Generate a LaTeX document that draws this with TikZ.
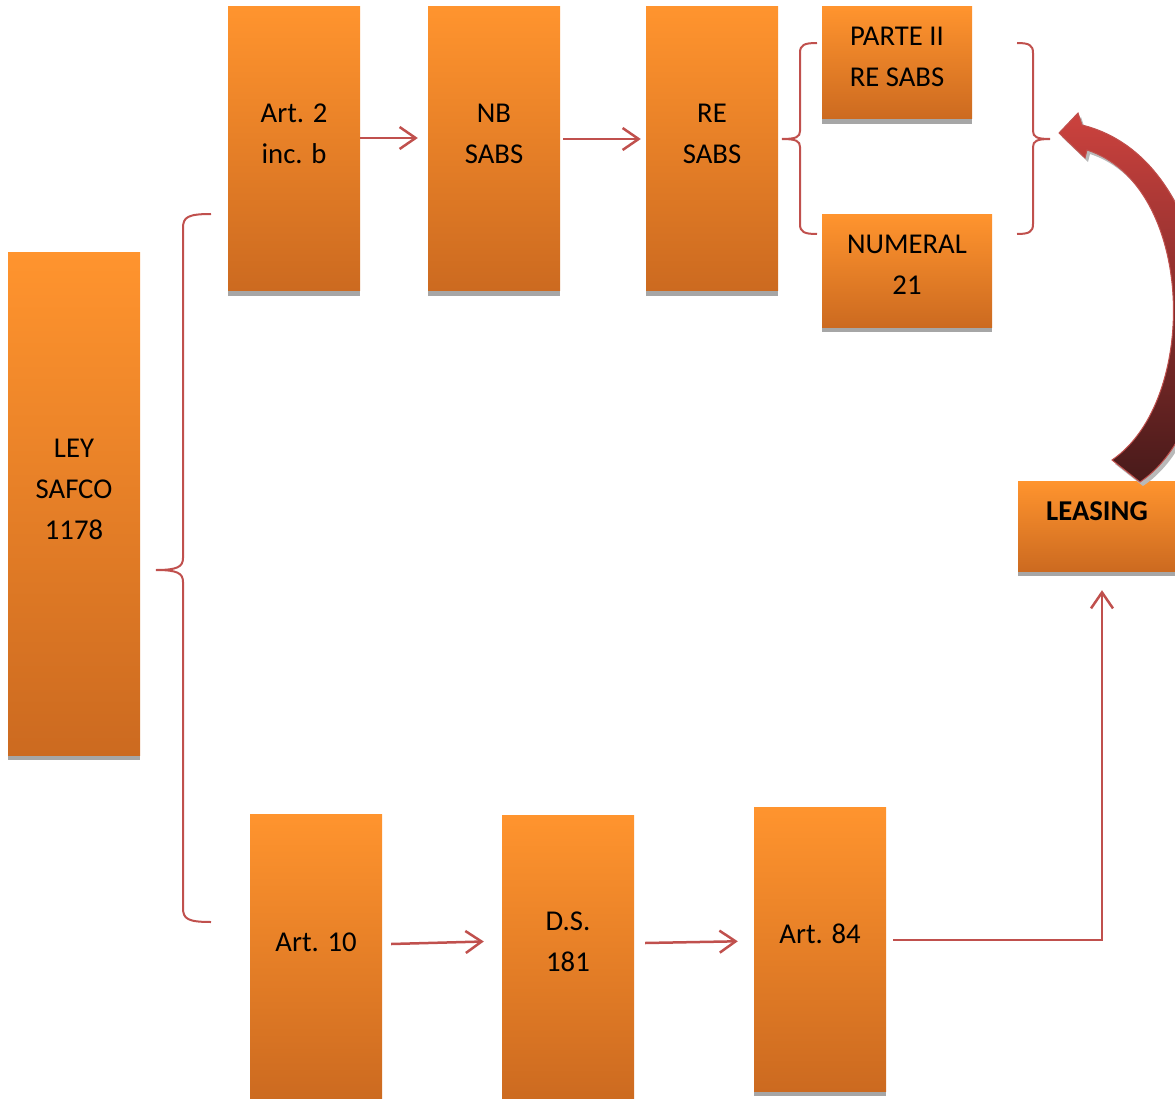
\documentclass[tikz,border=0pt]{standalone}
\usepackage{fontspec}
\setmainfont{Carlito}
\usetikzlibrary{arrows.meta,shadows}

\definecolor{boxtop}{RGB}{255,148,46}
\definecolor{boxbot}{RGB}{204,106,32}
\definecolor{shadowgray}{RGB}{166,166,166}
\definecolor{linkred}{RGB}{192,80,77}
\definecolor{arrowtop}{RGB}{204,66,62}
\definecolor{arrowmid}{RGB}{168,50,48}
\definecolor{arrowbot}{RGB}{72,26,26}

\tikzset{
  box/.style={shade, top color=boxtop, bottom color=boxbot, inner sep=0pt,
    drop shadow={shadow xshift=0pt, shadow yshift=-5pt, fill=shadowgray, opacity=1}},
  lbl/.style={font=\fontsize{28.7}{41}\selectfont, align=center, inner sep=0pt},
  link/.style={draw=linkred, line width=2.5pt, -{Straight Barb[length=16pt,width=22pt]}},
  brace/.style={draw=linkred, line width=2pt}
}

\begin{document}
\begin{tikzpicture}[x=1pt, y=-1pt]
  \useasboundingbox (0,0) rectangle (1175,1099);
  \clip (0,0) rectangle (1175,1099);

  % boxes
  \node[box, minimum width=132pt, minimum height=502pt] (ley) at (74,504) {};
  \node[box, minimum width=132pt, minimum height=284pt] (art2) at (294,149) {};
  \node[box, minimum width=132pt, minimum height=284pt] (nb) at (494,149) {};
  \node[box, minimum width=132pt, minimum height=284pt] (re) at (712,149) {};
  \node[box, minimum width=150pt, minimum height=112pt] (parte) at (897,63) {};
  \node[box, minimum width=170pt, minimum height=112pt] (numeral) at (907,271) {};
  \node[box, minimum width=158pt, minimum height=90pt] (leasing) at (1097,526) {};
  \node[box, minimum width=132pt, minimum height=286pt] (art10) at (316,957) {};
  \node[box, minimum width=132pt, minimum height=286pt] (ds) at (568,958) {};
  \node[box, minimum width=132pt, minimum height=284pt] (art84) at (820,949) {};

  % texts
  \node[lbl] (leyt) at (74,489) {LEY\\SAFCO\\1178};
  \node[lbl] (art2t) at (294,134) {Art. 2\\inc. b};
  \node[lbl] (nbt) at (494,134) {NB\\SABS};
  \node[lbl] (ret) at (712,134) {RE\\SABS};
  \node[lbl] (partet) at (897,57) {PARTE II\\RE SABS};
  \node[lbl] (numeralt) at (907,265) {NUMERAL\\21};
  \node[lbl, font=\fontsize{28.7}{41}\selectfont\bfseries] (leasingt) at (1097,511) {LEASING};
  \node[lbl] (art10t) at (316,942) {Art. 10};
  \node[lbl] (dst) at (568,942) {D.S.\\181};
  \node[lbl] (art84t) at (820,934) {Art. 84};

  % connectors
  \draw[link, shorten >=10pt] ([yshift=11pt]art2.east) -- ([yshift=11pt]nb.west);
  \draw[link, shorten <=3pt, shorten >=5pt] ([yshift=10pt]nb.east) -- ([yshift=10pt]re.west);
  \draw[link, shorten >=18pt] ([xshift=9pt,yshift=13pt]art10.east) -- ([yshift=17pt]ds.west);
  \draw[link, shorten >=16pt] ([xshift=11pt,yshift=15pt]ds.east) -- ([yshift=8pt]art84.west);
  \draw[link] ([xshift=7pt,yshift=9pt]art84.east) -| ([xshift=5pt,yshift=-19pt]leasing.south);

  % braces
  \draw[brace] (211,214) .. controls (188,214) and (183,217) .. (183,228) -- (183,558)
    .. controls (183,567) and (177,570) .. (156,570) .. controls (177,570) and (183,573) .. (183,582)
    -- (183,908) .. controls (183,919) and (188,922) .. (211,922);
  \draw[brace] (817,43) .. controls (804,43) and (800,45) .. (800,53) -- (800,131)
    .. controls (800,137) and (796,139) .. (782,139) .. controls (796,139) and (800,141) .. (800,147)
    -- (800,224) .. controls (800,232) and (804,234) .. (817,234);
  \draw[brace] (1017,43) .. controls (1029,43) and (1033,45) .. (1033,53) -- (1033,131)
    .. controls (1033,137) and (1037,139) .. (1050,139) .. controls (1037,139) and (1033,141) .. (1033,147)
    -- (1033,224) .. controls (1033,232) and (1029,234) .. (1017,234);

  % curved arrow from leasing back to the brace
  \begin{scope}[shift={(3,4)}]
    \fill[gray!55] (1112,460) .. controls (1200,400) and (1195,185) .. (1087,150) -- (1085,158)
      -- (1059,133) -- (1078,113) -- (1082,125) .. controls (1225,160) and (1240,415) .. (1140,482) -- cycle;
  \end{scope}
  \path[shade, top color=arrowtop, middle color=arrowmid, bottom color=arrowbot, draw=linkred, line width=1pt]
    (1112,460) .. controls (1200,400) and (1195,185) .. (1087,150) -- (1085,158)
    -- (1059,133) -- (1078,113) -- (1082,125) .. controls (1225,160) and (1240,415) .. (1140,482) -- cycle;
\end{tikzpicture}
\end{document}
